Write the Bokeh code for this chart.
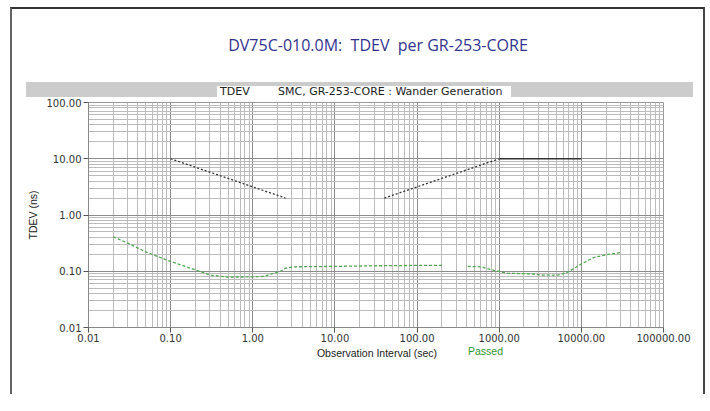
from bokeh.plotting import figure
from bokeh.models import PrintfTickFormatter, FixedTicker, Range1d, Div
from bokeh.layouts import column
from bokeh.embed import file_html
from bokeh.resources import INLINE
import numpy as np

# ---- data ----
chart_title = "DV75C-010.0M:&nbsp; TDEV&nbsp; per GR-253-CORE"
band_left_text = "TDEV"
band_right_text = "SMC, GR-253-CORE : Wander Generation"
x_title = "Observation Interval (sec)"
status_text = "Passed"

x_ticks = [0.01, 0.1, 1, 10, 100, 1000, 10000, 100000]
y_ticks = [0.01, 0.1, 1, 10, 100]

mask_a_tau = [0.1, 2.5]
mask_a_tdev = [10.0, 2.0]
mask_b_tau = [40.0, 1000.0]
mask_b_tdev = [2.0, 10.0]
mask_c_tau = [1000.0, 10000.0]
mask_c_tdev = [10.0, 10.0]

meas_tau = [0.02, 0.031, 0.052, 0.092, 0.175, 0.31, 0.49, 0.77, 1.35, 2.18, 2.5,
            3.2, 6.0, 10.0, 30.0, 100.0, 211.0, np.nan,
            413.0, 600.0, 860.0, 1270.0, 2420.0, 3480.0, 5160.0, 6830.0, 9840.0,
            14200.0, 21000.0, 30200.0]
meas_tdev = [0.41, 0.31, 0.215, 0.156, 0.113, 0.085, 0.079, 0.079, 0.081, 0.10, 0.113,
             0.12, 0.121, 0.122, 0.125, 0.127, 0.127, np.nan,
             0.122, 0.12, 0.104, 0.092, 0.090, 0.085, 0.085, 0.096, 0.133,
             0.176, 0.199, 0.216]

IW = 691          # inner width (inside the outer border)
HH = 88           # header height
FL, FR, FT, FB = 76, 40, 5, 14
FH = FT + 228 + FB

header = Div(width=IW, height=HH, margin=0, text=f"""
<div style="position:relative;width:{IW}px;height:{HH}px;overflow:hidden;">
  <div style="position:absolute;left:166px;top:27px;width:400px;text-align:center;
       font-family:'Open Sans';font-size:16px;line-height:19px;color:#33338f;white-space:nowrap;">{chart_title}</div>
  <div style="position:absolute;left:14px;top:73px;width:667px;height:15px;background:#cccccc;"></div>
  <div style="position:absolute;left:205px;top:77px;width:294px;height:11px;background:#ffffff;"></div>
  <div style="position:absolute;left:208px;top:77px;font-family:'DejaVu Sans';font-size:11px;
       line-height:11px;color:#222222;white-space:nowrap;">{band_left_text}</div>
  <div style="position:absolute;left:266px;top:77px;font-family:'DejaVu Sans';font-size:11px;
       line-height:11px;color:#222222;white-space:nowrap;">{band_right_text}</div>
</div>""")

p = figure(width=IW, height=FH, x_axis_type="log", y_axis_type="log",
           x_range=Range1d(0.01, 100000), y_range=Range1d(0.01, 100),
           output_backend="svg", toolbar_location=None, margin=0,
           min_border_left=FL, min_border_right=FR, min_border_top=FT, min_border_bottom=FB,
           background_fill_color="white", border_fill_color="white")
p.outline_line_color = "#999999"

for ax in (p.xaxis, p.yaxis):
    ax.formatter = PrintfTickFormatter(format="%.2f")
    ax.major_label_text_font = "DejaVu Sans"
    ax.major_label_text_font_size = "10px"
    ax.major_label_text_color = "#333333"
    ax.axis_line_color = "#888888"
    ax.major_tick_line_color = "#555555"
    ax.major_tick_out = 5
    ax.major_tick_in = 0
    ax.minor_tick_line_color = None
    ax.axis_label_text_font = "Liberation Sans"
    ax.axis_label_text_font_size = "10.5px"
    ax.axis_label_text_font_style = "normal"
    ax.axis_label_text_color = "#222222"

p.xaxis.ticker = FixedTicker(ticks=x_ticks, minor_ticks=[m * 10 ** e for e in range(-2, 5) for m in range(2, 10)])
p.yaxis.ticker = FixedTicker(ticks=y_ticks, minor_ticks=[m * 10 ** e for e in range(-2, 2) for m in range(2, 10)])
p.yaxis.axis_label = "TDEV (ns)"
p.yaxis.axis_label_standoff = 5
p.xaxis.major_label_standoff = 1
p.yaxis.major_label_standoff = 2

for g in (p.xgrid, p.ygrid):
    g.grid_line_color = "#8c8c8c"
    g.grid_line_width = 1
    g.minor_grid_line_color = "#bcbcbc"
    g.minor_grid_line_width = 1

# mask
p.line(mask_a_tau, mask_a_tdev, line_color="#333333", line_width=1.3, line_dash="2 2")
p.line(mask_b_tau, mask_b_tdev, line_color="#333333", line_width=1.3, line_dash="2 2")
p.line(mask_c_tau, mask_c_tdev, line_color="#333333", line_width=1.3)
# measurement
p.line(meas_tau, meas_tdev, line_color="#52a852", line_width=1.3, line_dash="3 2")

footer = Div(width=IW, height=50, margin=0, text=f"""
<div style="position:relative;width:{IW}px;height:50px;">
  <div style="position:absolute;left:265px;top:3px;width:200px;text-align:center;
       font-family:'Liberation Sans';font-size:10.5px;line-height:12px;color:#222222;white-space:nowrap;">{x_title}</div>
  <div style="position:absolute;left:456px;top:1px;font-family:'Liberation Sans';font-size:10.5px;
       line-height:12px;color:#2e962e;white-space:nowrap;">{status_text}</div>
</div>""")

layout = column(header, p, footer, margin=(7, 0, 0, 10), spacing=0,
                styles={"border-top": "2px solid #333333", "border-left": "2px solid #666666",
                        "border-right": "2px solid #444444"})

open("out.html", "w").write(file_html(layout, INLINE))
